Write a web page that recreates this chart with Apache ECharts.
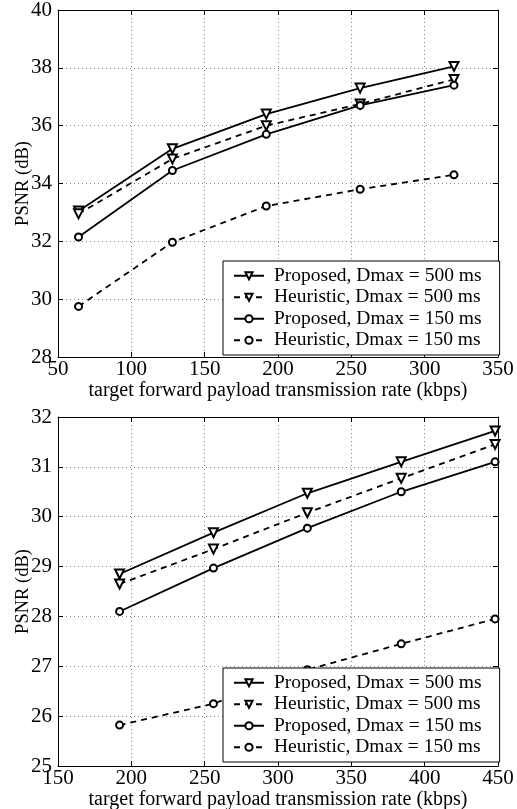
<!DOCTYPE html>
<html><head><meta charset="utf-8">
<script src="https://cdn.jsdelivr.net/npm/echarts@6/dist/echarts.min.js"></script>
<style>html,body{margin:0;padding:0;background:#fff}#c{width:517px;height:809px}</style>
</head><body><div id="c"></div>
<script>
const seriesNames = ['Proposed, Dmax = 500 ms','Heuristic, Dmax = 500 ms','Proposed, Dmax = 150 ms','Heuristic, Dmax = 150 ms'];
// Top plot
const xTop = [64, 128, 192, 256, 320];
const topProp500 = [33.05, 35.2, 36.4, 37.3, 38.05];
const topHeur500 = [32.95, 34.85, 36.0, 36.75, 37.6];
const topProp150 = [32.15, 34.45, 35.7, 36.7, 37.4];
const topHeur150 = [29.75, 31.97, 33.22, 33.8, 34.3];
// Bottom plot
const xBot = [192, 256, 320, 384, 448];
const botProp500 = [28.85, 29.68, 30.47, 31.1, 31.72];
const botHeur500 = [28.65, 29.35, 30.08, 30.77, 31.45];
const botProp150 = [28.1, 28.97, 29.77, 30.5, 31.1];
const botHeur150 = [25.82, 26.25, 26.93, 27.45, 27.95];

const FONT = 'Liberation Serif';
const xTitle = 'target forward payload transmission rate (kbps)';
const yTitle = 'PSNR (dB)';

const chart = echarts.init(document.getElementById('c'));
const grids = [
  {left: 58, top: 10, width: 440, height: 347, outerBoundsMode:'none', containLabel:false},
  {left: 58, top: 417, width: 440, height: 349, outerBoundsMode:'none', containLabel:false}
];
function mainX(gi, min, max){
  return {type:'value', gridIndex: gi, min, max, interval: 50, position:'bottom',
    name: xTitle, nameLocation:'middle', nameGap: 24,
    nameTextStyle:{fontFamily:FONT, fontSize:20, color:'#000'},
    axisLine:{show:true, onZero:false, lineStyle:{color:'#000', width:1}},
    axisTick:{show:true, inside:true, length:5, lineStyle:{color:'#000'}},
    axisLabel:{fontFamily:FONT, fontSize:21, color:'#000', margin:2},
    splitLine:{show:true, lineStyle:{type:[1,3], color:'#888', width:1}}};
}
function mirrorX(gi, min, max){
  return {type:'value', gridIndex: gi, min, max, interval: 50, position:'top',
    axisLine:{show:true, onZero:false, lineStyle:{color:'#000', width:1}},
    axisTick:{show:true, inside:true, length:5, lineStyle:{color:'#000'}},
    axisLabel:{show:false}, splitLine:{show:false}};
}
function mainY(gi, min, max, interval){
  return {type:'value', gridIndex: gi, min, max, interval, position:'left',
    name: yTitle, nameLocation:'middle', nameGap: 25, nameMoveOverlap: false,
    nameTextStyle:{fontFamily:FONT, fontSize:18.5, color:'#000'},
    axisLine:{show:true, onZero:false, lineStyle:{color:'#000', width:1}},
    axisTick:{show:true, inside:true, length:5, lineStyle:{color:'#000'}},
    axisLabel:{fontFamily:FONT, fontSize:21, color:'#000', margin:6},
    splitLine:{show:true, lineStyle:{type:[1,3], color:'#888', width:1}}};
}
function mirrorY(gi, min, max, interval){
  return {type:'value', gridIndex: gi, min, max, interval, position:'right',
    axisLine:{show:true, onZero:false, lineStyle:{color:'#000', width:1}},
    axisTick:{show:true, inside:true, length:5, lineStyle:{color:'#000'}},
    axisLabel:{show:false}, splitLine:{show:false}};
}
function mk(name, xs, ys, xi, yi, dashed, tri){
  return {name, type:'line', xAxisIndex: xi, yAxisIndex: yi,
    data: xs.map((x,i)=>[x, ys[i]]),
    symbol: tri ? 'emptyTriangle' : 'emptyCircle',
    symbolRotate: tri ? 180 : 0,
    symbolSize: tri ? 9 : 7,
    showSymbol: true,
    lineStyle:{color:'#000', width:1.8, type: dashed ? [6,5] : 'solid'},
    itemStyle:{color:'#000', borderColor:'#000', borderWidth:1.8},
    emphasis:{disabled:true}, animation:false};
}
function legend(top){
  return {show:true, orient:'vertical', left: 223, top: top, data: seriesNames.map(n=>({name:n})),
    itemWidth: 30, itemHeight: 9, itemGap: 0,
    padding:[4,18,4,10],
    borderColor:'#000', borderWidth:1, backgroundColor:'#fff',
    textStyle:{fontFamily:FONT, fontSize:19.5, lineHeight:21.5, color:'#000', padding:[0,0,0,5]},
    selectedMode:false};
}
const opt = {
  animation:false,
  grid: grids,
  xAxis: [mainX(0,50,350), mirrorX(0,50,350), mainX(1,150,450), mirrorX(1,150,450)],
  yAxis: [mainY(0,28,40,2), mirrorY(0,28,40,2), mainY(1,25,32,1), mirrorY(1,25,32,1)],
  legend: [legend(261), legend(668)],
  series: [
    mk(seriesNames[0], xTop, topProp500, 0, 0, false, true),
    mk(seriesNames[1], xTop, topHeur500, 0, 0, true, true),
    mk(seriesNames[2], xTop, topProp150, 0, 0, false, false),
    mk(seriesNames[3], xTop, topHeur150, 0, 0, true, false),
    mk(seriesNames[0], xBot, botProp500, 2, 2, false, true),
    mk(seriesNames[1], xBot, botHeur500, 2, 2, true, true),
    mk(seriesNames[2], xBot, botProp150, 2, 2, false, false),
    mk(seriesNames[3], xBot, botHeur150, 2, 2, true, false)
  ]
};
chart.setOption(opt);
</script></body></html>
